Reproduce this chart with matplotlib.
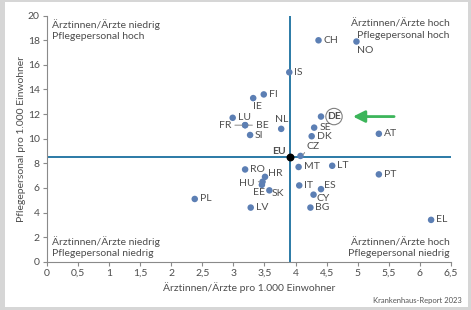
import matplotlib
matplotlib.use("Agg")
import matplotlib.pyplot as plt
from matplotlib.patches import Rectangle

plt.rcParams["font.family"] = ["Lato", "DejaVu Sans"]

# ── Data ───────────────────────────────────────────────────────────────────
countries = ["CH", "NO", "IS", "FI", "IE", "LU", "FR", "BE", "SI", "NL",
             "DE", "SE", "DK", "AT", "CZ", "RO", "HR", "HU", "EE", "SK",
             "LV", "MT", "LT", "PT", "IT", "ES", "CY", "BG", "EL", "PL"]
aerzte = [4.37, 4.98, 3.90, 3.49, 3.32, 2.99, 3.19, 3.19, 3.27, 3.77,
          4.41, 4.30, 4.26, 5.34, 4.08, 3.19, 3.51, 3.47, 3.46, 3.58,
          3.28, 4.05, 4.59, 5.34, 4.06, 4.41, 4.29, 4.24, 6.18, 2.38]
pflege = [18.0, 17.9, 15.4, 13.6, 13.3, 11.7, 11.1, 11.1, 10.3, 10.8,
          11.8, 10.9, 10.2, 10.4, 8.6, 7.5, 6.9, 6.5, 6.25, 5.8,
          4.4, 7.7, 7.8, 7.1, 6.2, 5.9, 5.45, 4.4, 3.4, 5.1]
eu_x, eu_y = 3.91, 8.5

# label offsets in pixels (dx, dy, ha)
offsets = {"NO": (1, -9, "left"), "IE": (0, -8, "left"), "FR": (-14, 0, "right"),
           "BE": (11, 0, "left"), "NL": (0, 9, "center"), "DE": (13, 0, "center"),
           "CZ": (6, 9, "left"), "HR": (3, 3, "left"), "HU": (-8, -2, "right"),
           "EE": (-3, -8, "center"), "SK": (2, -3, "left"), "ES": (3, 4, "left"),
           "CY": (3, -4, "left")}

xticks = [0, 0.5, 1, 1.5, 2, 2.5, 3, 3.5, 4, 4.5, 5, 5.5, 6, 6.5]
xticklabels = ["0", "0,5", "1", "1,5", "2", "2,5", "3", "3,5", "4", "4,5",
               "5", "5,5", "6", "6,5"]
yticks = list(range(0, 21, 2))

dot_c = "#5c7fb4"
line_c = "#2b7aa6"
txt_c = "#4d4d4d"

fig = plt.figure(figsize=(4.71, 3.10), dpi=100, facecolor="#d6d6d6")
fig.patches.append(Rectangle((5 / 471, 3 / 310), 463 / 471, 305 / 310,
                             transform=fig.transFigure, facecolor="white",
                             edgecolor="none", zorder=0))
ax = fig.add_axes([46.7 / 471, 48.3 / 310, 404.3 / 471, 246 / 310])
ax.set_zorder(2)
ax.set_facecolor("none")

ax.axhline(eu_y, color=line_c, lw=1.4, zorder=1)
ax.axvline(eu_x, color=line_c, lw=1.4, zorder=1)

ax.scatter(aerzte, pflege, s=22, color=dot_c, edgecolor="none", zorder=3)
ax.scatter([eu_x], [eu_y], s=22, color="black", zorder=4)

for name, x, y in zip(countries, aerzte, pflege):
    dx, dy, ha = offsets.get(name, (5, 0, "left"))
    extra = {}
    if name == "DE":
        extra = dict(weight="bold",
                     bbox=dict(boxstyle="circle,pad=0.12", fc="white",
                               ec="#808080", lw=0.8))
    ax.annotate(name, (x, y), xytext=(dx, dy), textcoords="offset pixels",
                ha=ha, va="center", fontsize=7.5, color=txt_c, zorder=5, **extra)

# leader lines
ax.annotate("", (3.19, 11.1), xytext=(-13, 0), textcoords="offset pixels",
            arrowprops=dict(arrowstyle="-", color="#888888", lw=0.7))
ax.annotate("", (3.19, 11.1), xytext=(10, 0), textcoords="offset pixels",
            arrowprops=dict(arrowstyle="-", color="#888888", lw=0.7))
ax.annotate("", (3.47, 6.5), xytext=(-7, 0), textcoords="offset pixels",
            arrowprops=dict(arrowstyle="-", color="#888888", lw=0.7))
ax.annotate("", (4.08, 8.6), xytext=(5, 6), textcoords="offset pixels",
            arrowprops=dict(arrowstyle="-", color="#888888", lw=0.7,
                            connectionstyle="arc3,rad=-0.3"))

# arrow pointing at DE
ax.annotate("", (4.88, 11.8), xytext=(5.63, 11.8),
            arrowprops=dict(arrowstyle="-|>,head_length=0.7,head_width=0.35",
                            color="#3cb55a", lw=2))

ax.annotate("EU", (eu_x, eu_y), xytext=(-11, 6), textcoords="offset pixels",
            ha="center", va="center", fontsize=7.5, color=txt_c, weight="bold")

# quadrant texts
qk = dict(fontsize=7.5, color=txt_c, linespacing=1.25)
ax.text(0.08, 19.7, "Ärztinnen/Ärzte niedrig\nPflegepersonal hoch", ha="left", va="top", **qk)
ax.text(6.48, 19.7, "Ärztinnen/Ärzte hoch\nPflegepersonal hoch", ha="right", va="top", **qk)
ax.text(0.08, 0.3, "Ärztinnen/Ärzte niedrig\nPflegepersonal niedrig", ha="left", va="bottom", **qk)
ax.text(6.48, 0.3, "Ärztinnen/Ärzte hoch\nPflegepersonal niedrig", ha="right", va="bottom", **qk)

ax.set_xlim(0, 6.5)
ax.set_ylim(0, 20)
ax.set_xticks(xticks)
ax.set_xticklabels(xticklabels)
ax.set_yticks(yticks)
for s in ["top", "right"]:
    ax.spines[s].set_visible(False)
for s in ["left", "bottom"]:
    ax.spines[s].set_color("#8a8a8a")
    ax.spines[s].set_linewidth(0.8)
ax.tick_params(colors="#8a8a8a", labelcolor=txt_c, labelsize=7.5, length=3, width=0.8, pad=2)
ax.set_xlabel("Ärztinnen/Ärzte pro 1.000 Einwohner", fontsize=7.5, color=txt_c, labelpad=3)
ax.set_ylabel("Pflegepersonal pro 1.000 Einwohner", fontsize=7.5, color=txt_c, labelpad=1)

fig.text(462 / 471, 9 / 310, "Krankenhaus-Report 2023", ha="right", va="center",
         fontsize=5.5, color="#555555")

fig.savefig("out.png", dpi=100, facecolor=fig.get_facecolor())
